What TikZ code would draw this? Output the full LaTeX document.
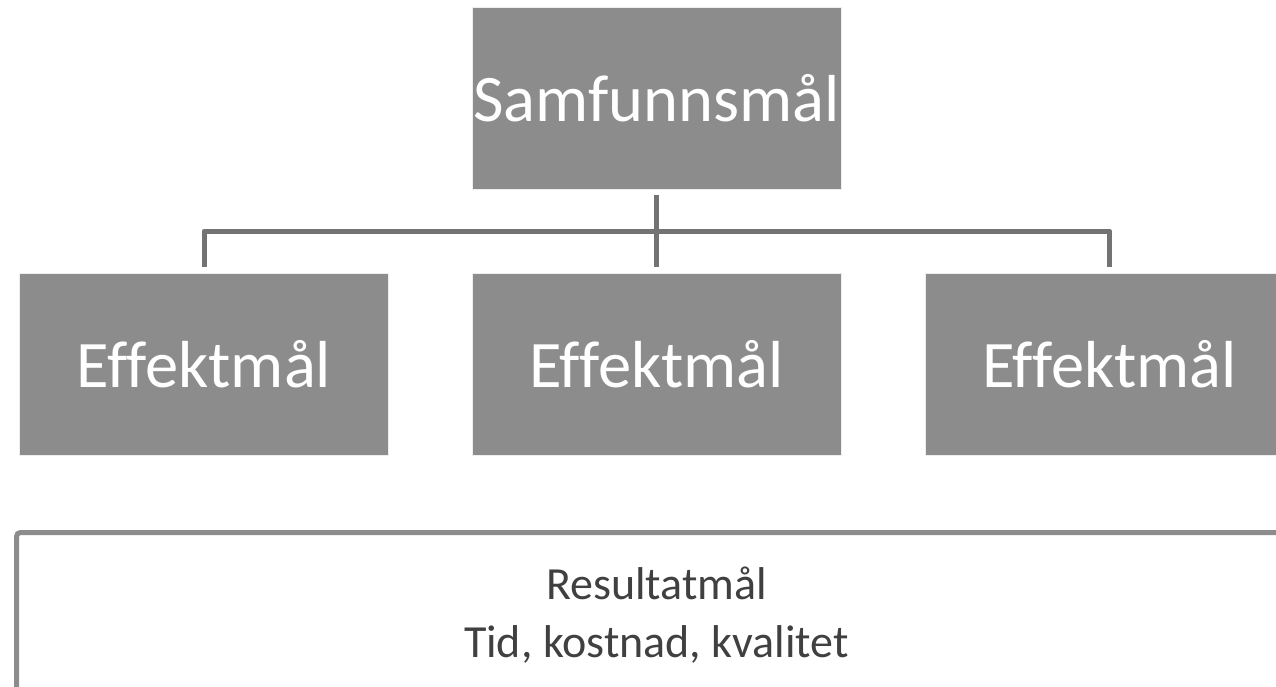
\documentclass[tikz,border=0pt]{standalone}
\usepackage{fontspec}
\setmainfont{Carlito}[Ligatures=NoCommon]
\usepackage{xcolor}
\usepackage{tikz}
\usetikzlibrary{positioning, calc}

\definecolor{boxgray}{HTML}{8C8C8C}
\definecolor{linegray}{HTML}{737373}
\definecolor{textgray}{HTML}{404040}

\begin{document}
\begin{tikzpicture}[x=1pt, y=-1pt,
    goalbox/.style={fill=boxgray, draw=white!85!boxgray, line width=0.8pt, text=white,
        minimum width=369pt, minimum height=182pt, inner sep=0pt,
        font=\fontsize{66.5}{78}\selectfont},
    conn/.style={draw=linegray, line width=5pt, line join=round}]

    % Keep the page as large as the reference
    \useasboundingbox (0, 0) rectangle (1276, 687);
    \clip (0, 0) rectangle (1276, 687);

    % Draw the goal boxes
    \node[goalbox] (samf) at (656.5, 98) {Samfunnsmål};
    \node[goalbox] (eff1) at (204, 364) {Effektmål};
    \node[goalbox] (eff2) at (656.5, 364) {Effektmål};
    \node[goalbox] (eff3) at (1109.5, 364) {Effektmål};

    % Connectors
    \coordinate (bus) at (656.5, 231);
    \draw[conn] ([yshift=-6pt]samf.south) -- ([yshift=6pt]eff2.north);
    \draw[conn] ([yshift=6pt]eff1.north) |- (bus) -| ([yshift=6pt]eff3.north);

    % Result frame, open to the right and bottom
    \draw[draw=boxgray, line width=5pt, rounded corners=4pt]
        (16.5, 760) -- (16.5, 532.5) -- (1320, 532.5);
    \node[align=center, text=textgray, font=\fontsize{46}{58}\selectfont]
        (result) at (656.5, 615) {Resultatmål\\Tid, kostnad, kvalitet};

\end{tikzpicture}
\end{document}
